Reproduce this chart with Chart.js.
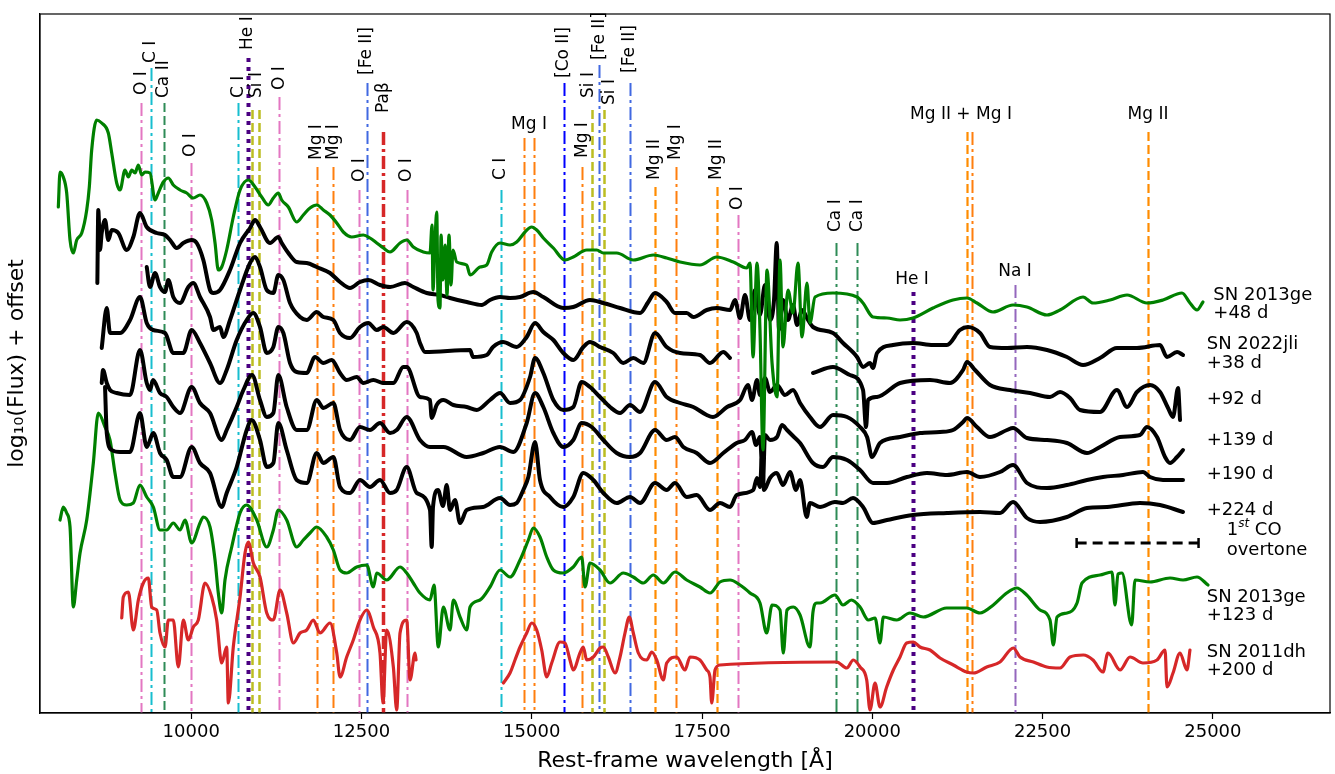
<!DOCTYPE html>
<html lang="en">
<head>
    <meta charset="UTF-8">
    <title>SN 2022jli - NIR spectra with line identifications</title>
    <script src="https://cdn.jsdelivr.net/npm/chart.js"></script>
    <style>
        body { margin: 0; background: #fff; }
    </style>
</head>
<body>
    <canvas id="spec" width="1335" height="774"></canvas>

    <script>
        // ---- spectra: [rest wavelength (A), log10 flux + offset] ----
        const sn13ge_48 = [[8049,5.06],[8074,5.41],[8122,5.36],[8172,5.20],[8221,4.73],[8269,4.60],[8319,4.73],[8393,4.80],[8466,5.03],[8504,5.26],[8539,5.63],[8613,5.93],[8686,5.90],[8783,5.80],[8833,5.60],[8906,5.30],[8955,5.23],[9028,5.43],[9077,5.36],[9127,5.43],[9175,5.40],[9224,5.48],[9273,5.38],[9322,5.41],[9395,5.40],[9469,5.13],[9517,5.20],[9591,5.31],[9664,5.35],[9737,5.28],[9836,5.23],[9934,5.20],[10031,5.15],[10129,5.18],[10228,5.10],[10301,4.93],[10350,4.70],[10398,4.43],[10448,4.46],[10521,4.63],[10618,4.96],[10717,5.23],[10839,5.33],[10937,5.26],[11035,5.16],[11132,5.08],[11206,5.15],[11279,5.20],[11329,5.13],[11426,5.06],[11549,4.91],[11646,4.98],[11744,5.05],[11843,5.08],[11940,5.03],[12038,4.98],[12137,4.90],[12233,4.81],[12357,4.76],[12527,4.78],[12625,4.75],[12724,4.70],[12821,4.65],[12919,4.61],[13066,4.70],[13164,4.73],[13261,4.66],[13408,4.61],[13506,4.60],[13536,4.88],[13550,4.23],[13580,4.73],[13605,5.01],[13624,4.13],[13653,4.05],[13668,4.78],[13697,4.33],[13727,4.68],[13756,4.18],[13785,4.78],[13815,4.28],[13844,4.63],[13898,4.51],[14045,4.48],[14094,4.38],[14240,4.46],[14339,4.48],[14412,4.61],[14534,4.70],[14681,4.68],[14779,4.71],[14901,4.81],[14999,4.86],[15073,4.83],[15170,4.75],[15317,4.65],[15488,4.53],[15610,4.56],[15807,4.63],[15954,4.63],[16051,4.60],[16247,4.60],[16491,4.53],[16785,4.58],[16981,4.55],[17177,4.51],[17470,4.48],[17716,4.56],[17959,4.51],[18156,4.45],[18204,4.50],[18249,3.56],[18307,4.50],[18351,3.83],[18395,2.63],[18454,4.43],[18528,3.50],[18601,3.16],[18645,4.53],[18689,3.66],[18762,4.23],[18836,4.00],[18909,4.50],[18968,3.76],[19041,4.30],[19085,3.90],[19159,4.16],[19423,4.20],[19776,4.16],[19864,4.10],[20010,3.96],[20216,3.95],[20407,3.93],[20597,3.95],[20891,4.05],[21185,4.13],[21390,4.15],[21537,4.10],[21772,4.01],[22066,4.08],[22271,4.06],[22565,3.98],[22756,4.03],[23094,4.16],[23240,4.10],[23490,4.13],[23740,4.18],[24033,4.10],[24268,4.13],[24547,4.20],[24664,4.10],[24767,4.03],[24855,4.11]];

        const sn22jli_38 = [[8622,4.30],[8636,5.03],[8661,4.63],[8686,4.80],[8735,4.93],[8783,4.73],[8833,4.83],[8930,4.80],[9053,4.63],[9150,4.76],[9248,5.00],[9347,4.86],[9494,4.80],[9616,4.78],[9689,4.73],[9787,4.65],[9884,4.70],[10007,4.73],[10081,4.70],[10178,4.53],[10276,4.23],[10325,4.20],[10423,4.23],[10570,4.43],[10717,4.70],[10864,4.85],[10937,4.93],[11010,4.86],[11157,4.70],[11279,4.76],[11329,4.70],[11426,4.60],[11549,4.51],[11696,4.50],[11843,4.46],[12038,4.40],[12185,4.31],[12332,4.25],[12478,4.31],[12600,4.33],[12772,4.28],[12919,4.26],[13139,4.30],[13261,4.26],[13458,4.20],[13653,4.18],[13800,4.15],[14045,4.11],[14265,4.08],[14387,4.13],[14534,4.16],[14681,4.15],[14828,4.16],[15023,4.21],[15170,4.16],[15463,4.05],[15610,4.06],[15855,4.13],[16051,4.10],[16296,4.05],[16590,4.00],[16711,4.11],[16810,4.20],[16981,4.11],[17103,4.00],[17275,4.00],[17372,3.96],[17569,4.03],[17716,4.05],[17911,4.03],[17984,4.13],[18058,3.95],[18131,4.18],[18204,3.93],[18278,4.23],[18351,3.98],[18424,4.28],[18498,3.93],[18557,4.13],[18597,4.70],[18630,3.83],[18689,4.13],[18762,3.93],[18836,4.08],[18895,3.88],[18968,4.03],[19056,3.93],[19129,3.86],[19423,3.80],[19570,3.70],[19776,3.56],[19864,3.46],[19966,3.50],[20010,3.45],[20069,3.60],[20304,3.68],[20597,3.70],[20891,3.68],[21096,3.68],[21287,3.83],[21405,3.86],[21581,3.80],[21728,3.66],[21978,3.65],[22271,3.66],[22565,3.63],[22858,3.56],[23094,3.48],[23343,3.55],[23592,3.65],[23886,3.65],[24224,3.68],[24327,3.56],[24474,3.61],[24562,3.58]];

        const sn22jli_92 = [[9347,4.46],[9395,4.26],[9469,4.40],[9542,4.26],[9616,4.21],[9664,4.33],[9737,4.16],[9836,4.10],[9958,4.26],[10031,4.30],[10129,4.16],[10276,3.96],[10325,3.83],[10423,3.86],[10471,3.76],[10570,3.93],[10717,4.23],[10864,4.50],[10937,4.56],[11010,4.46],[11109,4.23],[11206,4.20],[11279,4.38],[11353,4.33],[11451,4.10],[11598,3.96],[11696,3.93],[11843,4.01],[11940,3.96],[12087,3.93],[12185,3.80],[12332,3.75],[12478,3.86],[12600,3.90],[12724,3.83],[12821,3.86],[12968,3.80],[13164,3.91],[13311,3.80],[13359,3.70],[13433,3.61],[14094,3.63],[14138,3.56],[14339,3.58],[14431,3.66],[14578,3.71],[14779,3.66],[14926,3.76],[15048,3.90],[15170,3.81],[15317,3.73],[15463,3.60],[15610,3.53],[15757,3.66],[15855,3.71],[16002,3.66],[16197,3.60],[16344,3.50],[16491,3.55],[16638,3.50],[16810,3.80],[16981,3.66],[17177,3.60],[17470,3.58],[17617,3.50],[17812,3.61],[17911,3.55],[18500,null],[19129,3.40],[19423,3.46],[19672,3.38],[19864,3.23],[19908,2.86],[19937,3.13],[20069,3.16],[20407,3.30],[20847,3.33],[21141,3.30],[21332,3.43],[21390,3.51],[21508,3.43],[21728,3.28],[22022,3.23],[22316,3.20],[22609,3.16],[22756,3.21],[22903,3.15],[23050,3.03],[23343,3.01],[23592,3.23],[23740,3.06],[23886,3.21],[24077,3.28],[24224,3.21],[24342,3.05],[24415,2.96],[24489,3.25],[24518,2.93]];

        const sn22jli_139 = [[8686,3.65],[8760,4.05],[8808,3.80],[8955,3.80],[9102,3.93],[9248,4.16],[9347,3.90],[9439,3.83],[9616,3.80],[9737,3.60],[9884,3.60],[10007,3.83],[10129,3.70],[10276,3.50],[10423,3.30],[10521,3.43],[10668,3.73],[10815,3.93],[10912,4.00],[11010,3.86],[11109,3.60],[11206,3.66],[11279,3.86],[11353,3.80],[11451,3.50],[11549,3.41],[11696,3.40],[11818,3.56],[11940,3.50],[12063,3.53],[12185,3.40],[12283,3.33],[12430,3.36],[12527,3.30],[12674,3.33],[12821,3.30],[12968,3.30],[13114,3.46],[13164,3.46],[13359,3.16],[13506,3.13],[13531,2.95],[13604,3.08],[13702,3.13],[13849,3.08],[14045,3.06],[14192,3.03],[14387,3.13],[14534,3.20],[14681,3.10],[14828,3.13],[14975,3.36],[15048,3.55],[15170,3.40],[15317,3.13],[15463,3.03],[15610,3.06],[15733,3.31],[15855,3.26],[16002,3.16],[16149,3.06],[16296,3.00],[16443,3.08],[16590,3.01],[16810,3.31],[16981,3.16],[17177,3.10],[17372,3.06],[17569,2.98],[17661,2.96],[17867,3.06],[18058,3.13],[18175,3.28],[18234,3.13],[18307,3.33],[18351,3.18],[18424,3.35],[18498,3.21],[18601,3.28],[18718,3.18],[18836,3.23],[18939,3.10],[19085,2.96],[19232,2.86],[19423,2.98],[19629,2.96],[19820,2.86],[19923,2.76],[19996,2.56],[20113,2.70],[20407,2.76],[20700,2.80],[20994,2.81],[21185,2.83],[21332,2.91],[21390,2.95],[21537,2.86],[21728,2.76],[21978,2.83],[22066,2.85],[22271,2.75],[22565,2.73],[22858,2.70],[23152,2.60],[23343,2.66],[23637,2.76],[23930,2.78],[24033,2.86],[24180,2.76],[24298,2.56],[24371,2.50],[24474,2.56],[24562,2.63]];

        const sn22jli_190 = [[8686,3.30],[8705,3.43],[8760,3.30],[8808,3.23],[8906,3.20],[9102,3.18],[9248,3.63],[9347,3.30],[9395,3.23],[9439,3.33],[9542,3.20],[9640,3.16],[9737,3.06],[9836,3.00],[10007,3.26],[10129,3.10],[10276,3.00],[10448,2.73],[10521,2.83],[10668,3.06],[10766,3.23],[10893,3.38],[11010,3.13],[11109,2.96],[11206,3.00],[11279,3.38],[11402,3.06],[11549,2.83],[11696,2.83],[11843,3.13],[11940,3.05],[12087,3.10],[12185,2.83],[12332,2.73],[12478,2.86],[12625,2.83],[12772,2.90],[12919,2.80],[13017,2.83],[13164,2.96],[13359,2.73],[13506,2.66],[13702,2.66],[14045,2.56],[14289,2.60],[14534,2.66],[14730,2.61],[14926,2.90],[15048,3.20],[15170,3.06],[15317,2.80],[15463,2.66],[15610,2.73],[15733,2.90],[15880,2.86],[16051,2.73],[16247,2.60],[16443,2.56],[16590,2.60],[16810,2.83],[16981,2.73],[17103,2.76],[17225,2.66],[17421,2.60],[17617,2.50],[17812,2.60],[18009,2.70],[18131,2.73],[18234,2.81],[18293,2.68],[18351,2.76],[18395,2.30],[18424,2.78],[18498,2.73],[18601,2.76],[18674,2.88],[18748,2.83],[18836,2.77],[18939,2.70],[19129,2.50],[19276,2.46],[19423,2.56],[19629,2.53],[19820,2.43],[20010,2.30],[20216,2.30],[20509,2.36],[20803,2.40],[21097,2.38],[21390,2.41],[21581,2.36],[21875,2.41],[22066,2.48],[22271,2.30],[22565,2.25],[22858,2.28],[23152,2.33],[23387,2.36],[23681,2.38],[23974,2.41],[24077,2.36],[24268,2.33],[24562,2.33]];

        const sn22jli_224 = [[8735,3.26],[8760,2.80],[8833,2.63],[8955,2.61],[9102,2.61],[9248,3.00],[9347,2.66],[9444,2.80],[9542,2.60],[9640,2.53],[9737,2.36],[9836,2.36],[10007,2.66],[10129,2.50],[10276,2.40],[10448,2.06],[10521,2.20],[10668,2.46],[10815,2.83],[10888,2.93],[11010,2.73],[11109,2.46],[11206,2.50],[11279,2.90],[11402,2.63],[11549,2.33],[11696,2.30],[11843,2.60],[11940,2.50],[12087,2.56],[12185,2.26],[12332,2.20],[12478,2.33],[12625,2.26],[12772,2.33],[12919,2.20],[13017,2.23],[13164,2.46],[13311,2.20],[13506,2.03],[13531,1.66],[13550,2.06],[13624,2.23],[13697,2.07],[13751,2.28],[13800,2.03],[13873,2.13],[13947,1.90],[14045,2.03],[14284,2.06],[14534,2.15],[14681,2.08],[14779,2.10],[14876,2.23],[14950,2.36],[15048,2.71],[15121,2.33],[15268,2.16],[15463,2.06],[15610,2.16],[15757,2.40],[15904,2.33],[16051,2.20],[16247,2.10],[16443,2.16],[16590,2.10],[16810,2.30],[16981,2.23],[17103,2.30],[17275,2.16],[17421,2.18],[17617,2.03],[17764,2.10],[17911,2.06],[18009,2.18],[18252,2.23],[18307,2.35],[18351,2.26],[18380,2.56],[18410,2.23],[18498,2.35],[18597,2.40],[18689,2.28],[18792,2.41],[18880,2.23],[18939,2.33],[19037,1.96],[19085,2.10],[19232,2.06],[19452,2.11],[19570,2.10],[19717,2.15],[19864,2.06],[20010,1.90],[20216,1.93],[20597,1.98],[21097,2.00],[21581,2.01],[21875,2.00],[22066,2.11],[22271,1.95],[22462,1.91],[22858,1.96],[23152,2.05],[23446,2.06],[23930,2.10],[24224,2.08],[24562,2.01]];

        const sn13ge_123 = [[8074,1.93],[8122,2.06],[8172,2.00],[8221,1.86],[8269,1.06],[8319,1.33],[8368,1.60],[8466,1.93],[8563,2.50],[8636,3.00],[8735,2.86],[8808,2.73],[8881,2.40],[8955,2.13],[9053,2.08],[9150,2.10],[9248,2.28],[9347,2.16],[9444,2.06],[9542,1.83],[9640,1.83],[9737,1.90],[9836,1.83],[9909,1.93],[10007,1.70],[10129,1.90],[10178,1.96],[10276,1.86],[10350,1.53],[10398,1.20],[10448,1.00],[10496,1.33],[10595,1.66],[10717,2.00],[10815,2.08],[10962,1.93],[11109,1.66],[11206,1.83],[11279,2.03],[11402,1.93],[11549,1.66],[11646,1.73],[11744,1.80],[11843,1.86],[11989,1.76],[12087,1.63],[12185,1.43],[12283,1.40],[12430,1.46],[12577,1.48],[12674,1.26],[12724,1.40],[12870,1.33],[13066,1.46],[13164,1.40],[13261,1.30],[13359,1.20],[13506,1.13],[13565,1.28],[13628,0.66],[13702,1.06],[13800,0.83],[13849,1.13],[13947,0.96],[14045,0.83],[14094,1.06],[14240,1.13],[14387,1.26],[14534,1.43],[14681,1.36],[14828,1.53],[14950,1.73],[15023,1.85],[15121,1.76],[15220,1.56],[15317,1.43],[15463,1.40],[15610,1.46],[15733,1.56],[15782,1.26],[15855,1.50],[16002,1.43],[16149,1.30],[16344,1.40],[16491,1.36],[16638,1.30],[16785,1.38],[16932,1.30],[17103,1.41],[17275,1.33],[17470,1.26],[17617,1.20],[17764,1.31],[17911,1.33],[18058,1.28],[18204,1.20],[18351,1.10],[18449,0.80],[18528,1.08],[18645,1.03],[18693,0.60],[18748,1.03],[18840,1.06],[18939,0.98],[19085,0.66],[19129,1.01],[19183,1.10],[19232,1.10],[19452,1.18],[19570,1.08],[19693,1.13],[19820,1.06],[19942,0.93],[20040,0.95],[20113,0.70],[20162,0.96],[20358,0.93],[20553,1.00],[20749,0.96],[21091,1.05],[21385,1.05],[21581,1.00],[21777,1.08],[21973,1.20],[22120,1.25],[22267,1.18],[22462,1.03],[22609,0.93],[22658,0.68],[22712,0.96],[22859,1.00],[23006,1.10],[23079,1.30],[23343,1.38],[23519,1.41],[23563,1.08],[23607,1.39],[23666,1.40],[23808,0.88],[23857,1.33],[24077,1.31],[24371,1.35],[24562,1.33],[24767,1.36],[24929,1.28]];

        const sn11dh_200 = [[8980,0.95],[9003,1.16],[9077,1.21],[9150,0.83],[9224,1.13],[9297,1.30],[9370,1.35],[9420,1.06],[9494,1.03],[9542,0.80],[9616,0.66],[9664,0.93],[9737,0.93],[9811,0.46],[9884,0.93],[9958,0.73],[10031,0.86],[10104,0.93],[10203,1.30],[10301,1.16],[10374,0.93],[10448,0.50],[10521,0.66],[10545,0.10],[10618,0.66],[10717,1.16],[10790,1.60],[10839,1.71],[10912,1.50],[11010,1.36],[11109,1.00],[11206,0.93],[11304,1.23],[11402,1.00],[11500,0.70],[11598,0.80],[11696,0.83],[11793,0.93],[11891,0.80],[12038,0.90],[12137,0.60],[12185,0.36],[12283,0.56],[12380,0.73],[12478,0.93],[12577,1.03],[12674,0.86],[12772,0.60],[12816,0.10],[12870,0.83],[12968,0.46],[13017,0.03],[13066,0.80],[13164,0.93],[13213,0.33],[13286,0.60],[13301,0.53],[13900,null],[14583,0.30],[14681,0.40],[14754,0.53],[14828,0.66],[14926,0.80],[15000,0.90],[15073,0.83],[15146,0.63],[15220,0.36],[15293,0.50],[15415,0.71],[15488,0.70],[15561,0.53],[15610,0.43],[15708,0.60],[15757,0.66],[15806,0.53],[15904,0.56],[16002,0.65],[16051,0.66],[16124,0.56],[16223,0.40],[16296,0.56],[16369,0.80],[16432,0.96],[16491,0.80],[16565,0.60],[16688,0.53],[16762,0.61],[16835,0.53],[16932,0.33],[16981,0.50],[17128,0.56],[17250,0.43],[17323,0.56],[17470,0.53],[17569,0.43],[17617,0.36],[17642,0.10],[17691,0.43],[17764,0.48],[19477,0.51],[19625,0.45],[19721,0.53],[19820,0.46],[19918,0.33],[19966,0.03],[20040,0.30],[20113,0.06],[20211,0.26],[20309,0.43],[20407,0.56],[20504,0.70],[20602,0.71],[20700,0.66],[20847,0.63],[20994,0.55],[21190,0.48],[21386,0.41],[21484,0.40],[21680,0.46],[21875,0.51],[22071,0.65],[22169,0.56],[22365,0.51],[22561,0.46],[22756,0.45],[22903,0.56],[23098,0.58],[23240,0.53],[23387,0.41],[23460,0.60],[23637,0.43],[23784,0.56],[23974,0.50],[24180,0.53],[24298,0.63],[24327,0.26],[24415,0.40],[24518,0.60],[24620,0.43],[24664,0.63]];

        // ---- line identifications ----
        const lineWl  = [9265, 9410, 9600, 9995, 10691, 10830, 10895, 10995, 11295, 11843, 12087, 12468, 12577, 12821, 13164, 14544, 14886, 15033, 15474, 15742, 15889, 15992, 16065, 16443, 16810, 17118, 17715, 18028, 19463, 19780, 20593, 21386, 21464, 22095, 24052];
        const lineIon = ['O I', 'C I', 'Ca II', 'O I', 'C I', 'He I', 'Si I', 'Si I', 'O I', 'Mg I', 'Mg I', 'O I', '[Fe II]', 'Pab', 'O I', 'C I', 'Mg I', 'Mg I', '[Co II]', 'Mg I', 'Si I', '[Fe II]', 'Si I', '[Fe II]', 'Mg II', 'Mg I', 'Mg II', 'O I', 'Ca I', 'Ca I', 'He I', 'Mg II', 'Mg I', 'Na I', 'Mg II'];

        // rotated labels: text, wavelength
        const rotText = ['O I', 'C I', 'Ca II', 'O I', 'C I', 'He I', 'Si I', 'O I', 'Mg I', 'Mg I', 'O I', '[Fe II]', 'Paβ', 'O I', 'C I', '[Co II]', 'Mg I', 'Si I', '[Fe II]', 'Si I', '[Fe II]', 'Mg II', 'Mg I', 'Mg II', 'O I', 'Ca I', 'Ca I'];
        const rotWl   = [9265, 9410, 9600, 9995, 10691, 10830, 10962, 11295, 11843, 12087, 12468, 12577, 12821, 13164, 14544, 15474, 15742, 15831, 15992, 16139, 16443, 16810, 17118, 17715, 18028, 19463, 19780];
        // horizontal labels
        const flatText = ['Mg I', 'Mg II + Mg I', 'Mg II', 'He I', 'Na I'];
        const flatWl   = [14960, 21302, 24048, 20583, 22095];

        // spectrum names on the right
        const nameText = ['SN 2013ge', '+48 d', 'SN 2022jli', '+38 d', '+92 d', '+139 d', '+190 d', '+224 d', 'SN 2013ge', '+123 d', 'SN 2011dh', '+200 d'];
        const coRange = [23000, 24790];

        const xTicks = [10000, 12500, 15000, 17500, 20000, 22500, 25000];

        // ---- layout (y in plot units) ----
        const lineTop  = [6.10, 6.45, 6.10, 5.50, 6.10, 6.55, 6.03, 6.03, 6.16, 5.46, 5.46, 5.23, 6.30, 5.81, 5.23, 5.23, 5.75, 5.75, 6.30, 5.46, 6.03, 6.48, 6.03, 6.30, 5.26, 5.46, 5.26, 4.98, 4.70, 4.70, 4.21, 5.81, 5.81, 4.28, 5.81];
        const rotBase  = [6.18, 6.50, 6.15, 5.56, 6.15, 6.63, 6.15, 6.23, 5.53, 5.53, 5.31, 6.38, 6.00, 5.31, 5.33, 6.35, 5.55, 6.15, 6.53, 6.08, 6.40, 5.33, 5.53, 5.33, 5.03, 4.81, 4.81];
        const flatY    = [5.88, 5.98, 5.98, 4.33, 4.41];
        const nameX    = [25007, 25007, 24910, 24910, 24910, 24910, 24910, 24910, 24910, 24910, 24910, 24910];
        const nameY    = [4.18, 4.00, 3.69, 3.50, 3.14, 2.73, 2.39, 2.03, 1.16, 0.98, 0.61, 0.43];

        const dashDot = [13, 4, 3, 4];
        const dashed = [9, 4];
        const ionStyle = {
            'O I':     { color: '#e377c2', dash: dashDot, width: 2 },
            'C I':     { color: '#17becf', dash: dashDot, width: 2 },
            'Ca II':   { color: '#2e8b57', dash: dashed, width: 2 },
            'Ca I':    { color: '#2e8b57', dash: dashDot, width: 2 },
            'He I':    { color: '#4b0082', dash: [4, 5], width: 4 },
            'Si I':    { color: '#bcbd22', dash: dashed, width: 2.5 },
            'Mg I':    { color: '#ff7f0e', dash: dashDot, width: 2 },
            'Mg II':   { color: '#ff8c00', dash: dashed, width: 2.2 },
            '[Fe II]': { color: '#4169e1', dash: dashDot, width: 2 },
            '[Co II]': { color: '#0000ff', dash: dashDot, width: 2 },
            'Pab':     { color: '#d62728', dash: dashDot, width: 3.5 },
            'Na I':    { color: '#9467bd', dash: dashDot, width: 2 }
        };

        function toXY(arr) {
            return arr.map(p => ({ x: p[0], y: p[1] }));
        }

        function spectrum(data, color, width) {
            return {
                data: toXY(data),
                showLine: true,
                borderColor: color,
                borderWidth: width,
                pointRadius: 0,
                cubicInterpolationMode: 'monotone',
                spanGaps: false,
                borderJoinStyle: 'round',
                borderCapStyle: 'round'
            };
        }

        const FONT = 'DejaVu Sans';
        Chart.defaults.font.family = FONT;
        Chart.defaults.color = '#000';

        // vertical lines behind spectra, labels on top
        const linesPlugin = {
            id: 'lineIds',
            beforeDatasetsDraw(chart) {
                const { ctx, chartArea, scales: { x, y } } = chart;
                ctx.save();
                ctx.beginPath();
                ctx.rect(chartArea.left, chartArea.top, chartArea.width, chartArea.height);
                ctx.clip();
                lineWl.forEach((wl, i) => {
                    const st = ionStyle[lineIon[i]];
                    const px = Math.round(x.getPixelForValue(wl)) + 0.5;
                    ctx.strokeStyle = st.color;
                    ctx.lineWidth = st.width;
                    ctx.setLineDash(st.dash);
                    ctx.beginPath();
                    ctx.moveTo(px, y.getPixelForValue(lineTop[i]));
                    ctx.lineTo(px, chartArea.bottom);
                    ctx.stroke();
                });
                ctx.restore();
            },
            afterDraw(chart) {
                const { ctx, chartArea, scales: { x, y } } = chart;
                ctx.save();
                ctx.fillStyle = '#000';

                // rotated labels
                ctx.font = '17px "' + FONT + '"';
                ctx.textAlign = 'left';
                ctx.textBaseline = 'middle';
                rotText.forEach((t, i) => {
                    ctx.save();
                    ctx.translate(x.getPixelForValue(rotWl[i]), y.getPixelForValue(rotBase[i]));
                    ctx.rotate(-Math.PI / 2);
                    ctx.fillText(t, 0, 0);
                    ctx.restore();
                });

                // flat labels
                ctx.textAlign = 'center';
                flatText.forEach((t, i) => {
                    ctx.fillText(t, x.getPixelForValue(flatWl[i]), y.getPixelForValue(flatY[i]));
                });

                // spectrum names
                ctx.font = '18px "' + FONT + '"';
                ctx.textAlign = 'left';
                nameText.forEach((t, i) => {
                    ctx.fillText(t, x.getPixelForValue(nameX[i]), y.getPixelForValue(nameY[i]));
                });

                // CO overtone bar
                const x0 = x.getPixelForValue(coRange[0]);
                const x1 = x.getPixelForValue(coRange[1]);
                const yb = y.getPixelForValue(1.70);
                ctx.strokeStyle = '#000';
                ctx.lineWidth = 3;
                ctx.setLineDash([10, 6]);
                ctx.beginPath();
                ctx.moveTo(x0, yb);
                ctx.lineTo(x1, yb);
                ctx.stroke();
                ctx.setLineDash([]);
                ctx.lineWidth = 2.5;
                ctx.beginPath();
                ctx.moveTo(x0, yb - 5); ctx.lineTo(x0, yb + 5);
                ctx.moveTo(x1, yb - 5); ctx.lineTo(x1, yb + 5);
                ctx.stroke();

                const cx = x.getPixelForValue(25203);
                const cy = y.getPixelForValue(1.83);
                ctx.font = '18px "' + FONT + '"';
                ctx.fillText('1', cx, cy);
                let w = ctx.measureText('1').width;
                ctx.font = 'italic 12px "' + FONT + '"';
                ctx.fillText('st', cx + w, cy - 6);
                w += ctx.measureText('st').width;
                ctx.font = '18px "' + FONT + '"';
                ctx.fillText(' CO', cx + w, cy);
                ctx.fillText('overtone', cx, y.getPixelForValue(1.63));

                // frame
                ctx.lineWidth = 1.2;
                ctx.strokeRect(chartArea.left, chartArea.top, chartArea.width, chartArea.height);
                ctx.restore();
            }
        };

        new Chart(document.getElementById('spec'), {
            type: 'scatter',
            data: {
                datasets: [
                    spectrum(sn13ge_48, '#008000', 3.2),
                    spectrum(sn22jli_38, '#000000', 4),
                    spectrum(sn22jli_92, '#000000', 4),
                    spectrum(sn22jli_139, '#000000', 4),
                    spectrum(sn22jli_190, '#000000', 4),
                    spectrum(sn22jli_224, '#000000', 4),
                    spectrum(sn13ge_123, '#008000', 3.2),
                    spectrum(sn11dh_200, '#d62728', 3.2)
                ]
            },
            options: {
                responsive: false,
                animation: false,
                devicePixelRatio: 1,
                events: [],
                layout: { padding: { top: 14, right: 5, left: 0, bottom: 0 } },
                plugins: {
                    legend: { display: false },
                    tooltip: { enabled: false }
                },
                scales: {
                    x: {
                        type: 'linear',
                        min: 7780,
                        max: 26720,
                        afterBuildTicks: s => { s.ticks = xTicks.map(v => ({ value: v })); },
                        afterFit: s => { s.height = 61; },
                        ticks: {
                            font: { size: 18 },
                            color: '#000',
                            padding: 3,
                            maxRotation: 0,
                            autoSkip: false,
                            callback: v => String(v)
                        },
                        grid: { display: true, drawOnChartArea: false, drawTicks: true, tickLength: 6, tickColor: '#000', tickWidth: 1.2 },
                        border: { display: true, color: '#000', width: 1.2 },
                        title: { display: true, text: 'Rest-frame wavelength [Å]', font: { size: 22 }, color: '#000', padding: { top: 0, bottom: 0 } }
                    },
                    y: {
                        min: 0,
                        max: 6.99,
                        afterFit: s => { s.width = 40; },
                        ticks: { display: false },
                        grid: { display: false, drawTicks: false },
                        border: { display: true, color: '#000', width: 1.2 },
                        title: { display: true, text: 'log₁₀(Flux) + offset', font: { size: 22 }, color: '#000', padding: { top: 4, bottom: 0 } }
                    }
                }
            },
            plugins: [linesPlugin]
        });
    </script>
</body>
</html>
